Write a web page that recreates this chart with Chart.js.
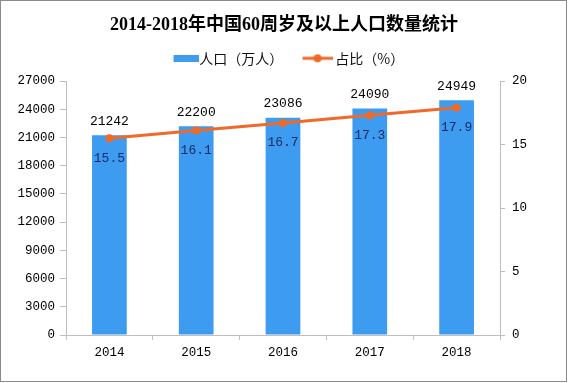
<!DOCTYPE html>
<html>
<head>
<meta charset="utf-8">
<script src="https://cdn.jsdelivr.net/npm/chart.js@4"></script>
<style>
  html, body { margin: 0; padding: 0; background: #fff; }
  #wrap { width: 568px; height: 383px; position: relative; }
</style>
</head>
<body>
<div id="wrap"><canvas id="c" width="568" height="383"></canvas></div>
<script>
const categories = ['2014', '2015', '2016', '2017', '2018'];
const population = [21242, 22200, 23086, 24090, 24949];
const share = [15.5, 16.1, 16.7, 17.3, 17.9];
const leftAxis = { min: 0, max: 27000, step: 3000 };
const rightAxis = { min: 0, max: 20, step: 5 };
const titleText = '2014-2018年中国60周岁及以上人口数量统计';
const seriesNames = ['人口（万人）', '占比（%）'];

const BAR = '#3d9bf0';
const LINE = '#ef6a28';
const AXIS = '#bfbfbf';
const MONO = '"Liberation Mono", "DejaVu Sans Mono", monospace';
const CJK = '"Noto Sans CJK SC", sans-serif';

function makeBarIcon() {
  const c = document.createElement('canvas');
  c.width = 41; c.height = 7;
  const g = c.getContext('2d');
  g.fillStyle = BAR;
  g.fillRect(16, 0, 25, 7);
  return c;
}
function makeLineIcon() {
  const c = document.createElement('canvas');
  c.width = 37; c.height = 10;
  const g = c.getContext('2d');
  g.strokeStyle = LINE; g.lineWidth = 3;
  g.beginPath(); g.moveTo(7, 5); g.lineTo(37, 5); g.stroke();
  g.fillStyle = LINE;
  g.beginPath(); g.arc(22, 5, 4, 0, Math.PI * 2); g.fill();
  return c;
}
const barIcon = makeBarIcon();
const lineIcon = makeLineIcon();

const frame = {
  id: 'frame',
  beforeDraw(chart) {
    const ctx = chart.ctx;
    ctx.save();
    ctx.fillStyle = '#fff';
    ctx.fillRect(0, 0, chart.width, chart.height);
    ctx.restore();
  },
  afterDraw(chart) {
    const ctx = chart.ctx;
    ctx.save();
    ctx.strokeStyle = '#8a8a8a';
    ctx.lineWidth = 1;
    ctx.strokeRect(0.5, 0.5, chart.width - 2, chart.height - 2);
    ctx.restore();
  }
};

const valueLabels = {
  id: 'valueLabels',
  afterDatasetsDraw(chart) {
    const ctx = chart.ctx;
    ctx.save();
    ctx.textAlign = 'center';
    ctx.textBaseline = 'middle';
    ctx.font = '13px ' + MONO;
    ctx.fillStyle = '#000';
    chart.getDatasetMeta(0).data.forEach((el, i) => {
      ctx.fillText(String(population[i]), el.x, el.y - 14);
    });
    ctx.fillStyle = '#1a2c6b';
    chart.getDatasetMeta(1).data.forEach((el, i) => {
      ctx.fillText(share[i].toFixed(1), el.x, el.y + 20);
    });
    ctx.restore();
  }
};

const tickFont = { family: MONO, size: 12.5 };

new Chart(document.getElementById('c'), {
  type: 'bar',
  data: {
    labels: categories,
    datasets: [
      {
        type: 'bar',
        label: seriesNames[0],
        data: population,
        backgroundColor: BAR,
        yAxisID: 'y',
        categoryPercentage: 1,
        barPercentage: 0.4,
        order: 2
      },
      {
        type: 'line',
        label: seriesNames[1],
        data: share,
        borderColor: LINE,
        backgroundColor: LINE,
        borderWidth: 3,
        pointRadius: 4,
        pointBorderWidth: 0,
        pointBackgroundColor: LINE,
        tension: 0,
        yAxisID: 'y1',
        order: 1
      }
    ]
  },
  options: {
    responsive: false,
    animation: false,
    layout: { padding: 0 },
    plugins: {
      tooltip: { enabled: false },
      title: {
        display: true,
        text: titleText,
        color: '#000',
        font: { family: '"Liberation Serif", "Noto Sans CJK SC", serif', size: 18, weight: 'bold', lineHeight: 1.1 },
        padding: { top: 15, bottom: 0 }
      },
      subtitle: {
        display: true,
        text: ' ',
        weight: 500,
        font: { size: 1, lineHeight: 1 },
        padding: { top: 0, bottom: 4.7 }
      },
      legend: {
        display: true,
        position: 'top',
        labels: {
          usePointStyle: true,
          pointStyleWidth: 28.5,
          padding: 16.5,
          color: '#111',
          font: { family: CJK, size: 14 },
          generateLabels() {
            return [
              { text: seriesNames[0], pointStyle: barIcon, datasetIndex: 0, hidden: false, fontColor: '#111', lineWidth: 0 },
              { text: seriesNames[1], pointStyle: lineIcon, datasetIndex: 1, hidden: false, fontColor: '#111', lineWidth: 0 }
            ];
          }
        }
      }
    },
    scales: {
      x: {
        type: 'category',
        offset: true,
        grid: { offset: true, drawOnChartArea: false, drawTicks: true, tickLength: 5, color: AXIS },
        border: { color: AXIS },
        ticks: { color: '#000', font: tickFont, padding: 5, maxRotation: 0 },
        afterFit(a) { a.height = 48; }
      },
      y: {
        position: 'left',
        min: leftAxis.min,
        max: leftAxis.max,
        grid: { drawOnChartArea: false, drawTicks: true, tickLength: 6, color: AXIS },
        border: { color: AXIS },
        ticks: { stepSize: leftAxis.step, color: '#000', font: tickFont, padding: 5, callback: (v) => String(v) },
        afterFit(a) { a.width = 66; }
      },
      y1: {
        position: 'right',
        min: rightAxis.min,
        max: rightAxis.max,
        grid: { drawOnChartArea: false, drawTicks: true, tickLength: 5, color: AXIS },
        border: { color: AXIS },
        ticks: { stepSize: rightAxis.step, color: '#000', font: tickFont, padding: 7, callback: (v) => String(v) },
        afterFit(a) { a.width = 68; }
      }
    }
  },
  plugins: [frame, valueLabels]
});
</script>
</body>
</html>
